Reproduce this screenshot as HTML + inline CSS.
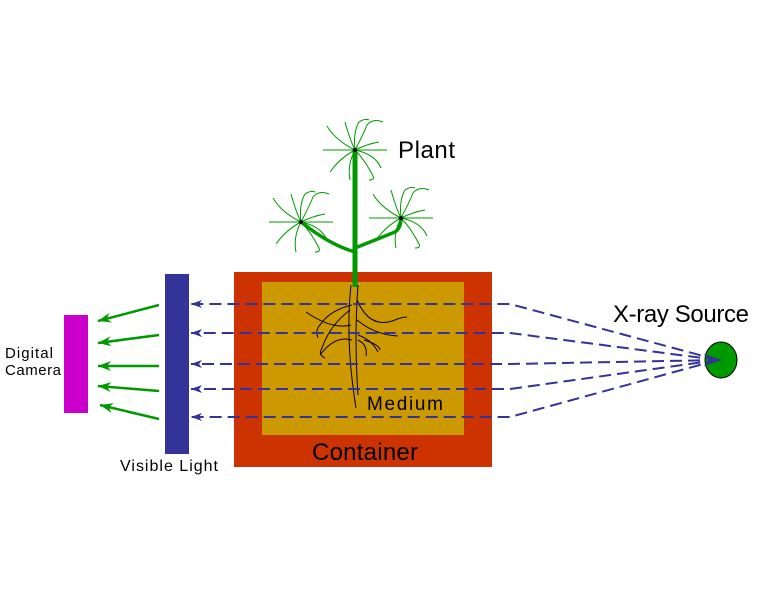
<!DOCTYPE html>
<html><head><style>body{margin:0;background:#fff}svg{display:block}text{font-family:"Liberation Sans",sans-serif;fill:#000}</style></head><body>
<svg width="757" height="600" viewBox="0 0 757 600" xmlns="http://www.w3.org/2000/svg">
<defs>
<marker id="ab" markerWidth="12" markerHeight="8" refX="11" refY="4" orient="auto" markerUnits="userSpaceOnUse"><path d="M0,0 L11,4 L0,8 L3,4Z" fill="#333399"/></marker>
<marker id="ag" markerWidth="14" markerHeight="10" refX="13" refY="5" orient="auto" markerUnits="userSpaceOnUse"><path d="M0,0 L13,5 L0,10 L4,5Z" fill="#009900"/></marker>
<g id="leaf" fill="none" stroke="#009900" stroke-width="1">
<path d="M-32,0 H32"/><path d="M-10,-28 Q-5,-10 0,0 Q8,-15 12,-25 Q18,-32 28,-28"/><path d="M0,0 Q-20,-10 -28,-24"/><path d="M0,0 Q-15,8 -25,22"/><path d="M0,0 Q10,10 18,26 Q20,30 14,30"/><path d="M0,0 Q20,4 26,18"/><path d="M0,0 Q-8,15 -5,30"/><path d="M0,0 Q12,-6 24,-8"/><path d="M0,0 Q-2,-18 4,-28 Q10,-32 14,-30"/>
</g>
</defs>
<rect x="234" y="272" width="258" height="195" fill="#cc3300"/>
<rect x="262" y="282" width="202" height="153" fill="#cc9900"/>
<rect x="165" y="274" width="24" height="180" fill="#333399"/>
<rect x="64" y="315" width="24" height="98" fill="#cc00cc"/>
<g fill="none" stroke="#000" stroke-width="1">
<path d="M351,285 Q345,340 356,408"/><path d="M358,285 Q354,340 358,395"/>
<path d="M352,305 Q330,310 320,325 Q315,330 318,338"/><path d="M350,310 Q330,325 322,348 Q318,355 325,358"/>
<path d="M352,340 Q335,335 320,355"/><path d="M351,325 Q332,330 306,312"/>
<path d="M357,300 Q370,330 395,320 Q402,317 407,317"/><path d="M357,320 Q375,335 398,336"/>
<path d="M358,335 Q372,340 378,352"/><path d="M358,340 Q368,345 366,356"/><path d="M364,340 Q380,345 380,350"/>
</g>
<path d="M355,150 V287" stroke="#009900" stroke-width="5"/>
<path d="M355,252 Q330,245 301,222" stroke="#009900" stroke-width="3.5" fill="none"/>
<path d="M355,248 Q375,240 395,232 Q401,228 401,218" stroke="#009900" stroke-width="3.5" fill="none"/>
<use href="#leaf" x="355" y="150"/><use href="#leaf" x="301" y="222"/><use href="#leaf" x="401" y="218"/>
<circle cx="355" cy="150" r="2" fill="#000"/><circle cx="301" cy="222" r="2" fill="#000"/><circle cx="401" cy="218" r="2" fill="#000"/>
<g stroke="#333399" stroke-width="2" fill="none" stroke-dasharray="12,6">
<path d="M718,360 L510,304 H191" marker-end="url(#ab)"/>
<path d="M718,360 L510,333 H191" marker-end="url(#ab)"/>
<path d="M718,360 L510,364 H191" marker-end="url(#ab)"/>
<path d="M718,360 L510,389 H191" marker-end="url(#ab)"/>
<path d="M718,360 L510,417 H191" marker-end="url(#ab)"/>
</g>
<ellipse cx="721" cy="360" rx="16" ry="18" fill="#009900" stroke="#000" stroke-width="1"/>
<path d="M722,360 L704,354 L708,360 L704,366Z" fill="#333399"/>
<g stroke="#009900" stroke-width="2.5">
<line x1="159" y1="305" x2="98" y2="321" marker-end="url(#ag)"/>
<line x1="159" y1="335" x2="98" y2="343" marker-end="url(#ag)"/>
<line x1="159" y1="366" x2="98" y2="366" marker-end="url(#ag)"/>
<line x1="159" y1="391" x2="98" y2="386" marker-end="url(#ag)"/>
<line x1="159" y1="419" x2="100" y2="405" marker-end="url(#ag)"/>
</g>
<text x="398" y="158" font-size="24" textLength="57">Plant</text>
<text x="613" y="322" font-size="24" textLength="136">X-ray Source</text>
<text x="367" y="410" font-size="19" textLength="76">Medium</text>
<text x="312" y="460" font-size="24" textLength="106">Container</text>
<text x="120" y="471" font-size="16" textLength="98">Visible Light</text>
<text x="5" y="358" font-size="15" textLength="48">Digital</text>
<text x="5" y="375" font-size="15" textLength="56">Camera</text>
</svg>
</body></html>
